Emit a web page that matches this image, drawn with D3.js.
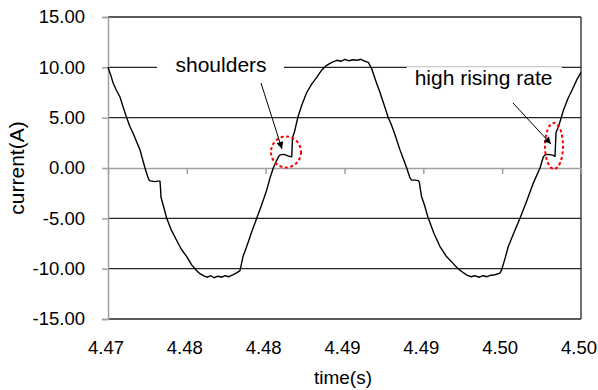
<!DOCTYPE html>
<html>
<head>
<meta charset="utf-8">
<script src="https://cdn.jsdelivr.net/npm/d3@7"></script>
<style>
  html, body { margin: 0; padding: 0; background: #fff; }
  svg { display: block; font-family: "Liberation Sans", Arial, sans-serif; }
</style>
</head>
<body>
<svg id="chart" width="598" height="390"></svg>
<script>
// Measured phase current, seconds vs amperes
const timeS = [
  4.470000, 4.470159, 4.470336, 4.470539, 4.470761, 4.470970, 4.471186, 4.471395, 4.471605, 4.471839,
  4.472030, 4.472188, 4.472347, 4.472505, 4.472619, 4.472791, 4.472981, 4.473171, 4.473298, 4.473330,
  4.473361, 4.473520, 4.473723, 4.474027, 4.474357, 4.474662, 4.474992, 4.475296, 4.475626, 4.475835,
  4.476044, 4.476279, 4.476533, 4.476723, 4.476977, 4.477230, 4.477420, 4.477674, 4.477947, 4.478182,
  4.478372, 4.478467, 4.478562, 4.478797, 4.479101, 4.479431, 4.479736, 4.480065, 4.480275, 4.480484,
  4.480655, 4.480801, 4.480909, 4.481163, 4.481417, 4.481651, 4.481702, 4.481829, 4.482051, 4.482304,
  4.482603, 4.482907, 4.483237, 4.483541, 4.483871, 4.484080, 4.484271, 4.484524, 4.484778, 4.485032,
  4.485285, 4.485539, 4.485793, 4.486047, 4.486300, 4.486509, 4.486725, 4.486998, 4.487252, 4.487505,
  4.487778, 4.487949, 4.488203, 4.488520, 4.488710, 4.488945, 4.489154, 4.489262, 4.489471, 4.489681,
  4.489744, 4.489820, 4.489883, 4.490074, 4.490315, 4.490676, 4.491057, 4.491469, 4.491901, 4.492199,
  4.492535, 4.492769, 4.493023, 4.493277, 4.493530, 4.493784, 4.494038, 4.494291, 4.494545, 4.494862,
  4.494970, 4.495180, 4.495389, 4.495750, 4.496131, 4.496575, 4.496974, 4.497399, 4.497609, 4.497716,
  4.497970, 4.498243, 4.498351, 4.498414, 4.498541, 4.498668, 4.498877, 4.499175, 4.499511, 4.499746,
  4.500000
];
const currentA = [
  10.0, 9.3, 8.4, 7.7, 7.05, 6.0, 5.0, 4.1, 3.4, 2.5,
  1.8, 0.9, 0.0, -0.8, -1.25, -1.3, -1.35, -1.3, -1.3, -2.0,
  -2.9, -3.8, -5.0, -6.2, -7.2, -8.1, -8.8, -9.6, -10.2, -10.5,
  -10.7, -10.85, -10.7, -10.9, -10.75, -10.85, -10.7, -10.8, -10.6, -10.4,
  -10.2, -9.5, -8.8, -7.8, -6.4, -5.0, -3.7, -2.2, -1.0, 0.0,
  0.6, 1.1, 1.3, 1.35, 1.2, 1.1, 3.0, 3.6, 5.1, 6.3,
  7.5, 8.3, 9.0, 9.7, 10.2, 10.4, 10.55, 10.7, 10.6, 10.8,
  10.65, 10.75, 10.7, 10.8, 10.6, 10.5, 9.85, 8.6, 7.5, 6.3,
  5.0, 4.4, 3.3, 1.8, 1.0, 0.0, -1.0, -1.2, -1.2, -1.25,
  -1.4, -2.2, -2.8, -3.7, -5.0, -6.5, -7.8, -8.8, -9.5, -10.0,
  -10.4, -10.65, -10.8, -10.7, -10.85, -10.7, -10.8, -10.65, -10.6, -10.45,
  -10.1, -9.0, -7.8, -6.4, -5.0, -3.2, -1.5, 0.0, 1.1, 1.3,
  1.35, 1.25, 1.15, 3.5, 4.0, 4.6, 5.7, 6.9, 8.0, 8.8,
  9.5
];

// Axis ticks and their printed labels
const xTicks = [4.470, 4.475, 4.480, 4.485, 4.490, 4.495, 4.500];
const xTickLabels = ["4.47", "4.48", "4.48", "4.49", "4.49", "4.50", "4.50"];
const yTicks = [-15, -10, -5, 0, 5, 10, 15];
const yTickLabels = ["-15.00", "-10.00", "-5.00", "0.00", "5.00", "10.00", "15.00"];

// Callouts (anchored in data units)
const noteText = ["shoulders", "high rising rate"];
const noteTextT = [4.47717, 4.49382];
const noteTextV = [9.54, 8.24];
const noteGapFrom = [4.473108, 4.488945];
const noteGapTo = [4.481163, 4.498776];
const arrowFromT = [4.479704, 4.495687];
const arrowFromV = [8.44, 6.46];
const arrowToT = [4.481036, 4.498097];
const arrowToV = [1.89, 2.38];
const ringT = [4.481290, 4.498288];
const ringV = [1.59, 2.19];
const ringRx = [15, 9];
const ringRy = [15.5, 23];

const svg = d3.select("#chart");
const plotLeft = 108, plotRight = 581, plotTop = 17, plotBottom = 319;

const x = d3.scaleLinear().domain([4.47, 4.50]).range([plotLeft, plotRight]);
const y = d3.scaleLinear().domain([-15, 15]).range([plotBottom, plotTop]);

const gridColor = "#262626";
const axisColor = "#a0a0a0";

// Horizontal gridlines (zero line is the gray category axis)
svg.append("g").selectAll("line")
  .data(yTicks.filter(v => v !== 0))
  .join("line")
  .attr("x1", plotLeft).attr("x2", plotRight)
  .attr("y1", d => y(d)).attr("y2", d => y(d))
  .attr("stroke", gridColor).attr("stroke-width", 1.3);

// Right border of the plot area
svg.append("line")
  .attr("x1", plotRight).attr("x2", plotRight).attr("y1", plotTop).attr("y2", plotBottom)
  .attr("stroke", gridColor).attr("stroke-width", 1.3);

// Value axis on the left
const yAxis = d3.axisLeft(y).tickValues(yTicks)
  .tickFormat((d, i) => yTickLabels[i]).tickSize(6).tickPadding(17);
const gy = svg.append("g").attr("transform", `translate(${plotLeft},0)`).call(yAxis);
gy.select(".domain").attr("stroke", axisColor).attr("stroke-width", 1.5);
gy.selectAll(".tick line").attr("stroke", axisColor).attr("stroke-width", 1.5);
gy.selectAll(".tick text")
  .attr("fill", "#000").style("font-size", "18.5px")
  .attr("font-family", "Liberation Sans, Arial, sans-serif");

// Time axis crossing at zero, ticks below it
const xAxis = d3.axisBottom(x).tickValues(xTicks).tickFormat("").tickSize(6).tickSizeOuter(0);
const gx = svg.append("g").attr("transform", `translate(0,${y(0)})`).call(xAxis);
gx.select(".domain").attr("stroke", axisColor).attr("stroke-width", 1.5);
gx.selectAll(".tick line").attr("stroke", axisColor).attr("stroke-width", 1.5);

// Time labels sit below the plot area
svg.append("g").selectAll("text")
  .data(xTicks)
  .join("text")
  .attr("x", d => x(d) - 2)
  .attr("y", 354)
  .attr("text-anchor", "middle")
  .style("font-size", "18.5px")
  .text((d, i) => xTickLabels[i]);

// Axis titles
svg.append("text")
  .attr("transform", `translate(24,${(plotTop + plotBottom) / 2}) rotate(-90)`)
  .attr("text-anchor", "middle")
  .style("font-size", "21px")
  .text("current(A)");
svg.append("text")
  .attr("x", 343).attr("y", 384)
  .attr("text-anchor", "middle")
  .style("font-size", "19px")
  .text("time(s)");

// Callout label boxes blank the gridline behind them
const notes = noteText.map((t, i) => ({
  text: t, t: noteTextT[i], v: noteTextV[i], g0: noteGapFrom[i], g1: noteGapTo[i]
}));
svg.append("g").selectAll("rect")
  .data(notes)
  .join("rect")
  .attr("x", d => x(d.g0))
  .attr("width", d => x(d.g1) - x(d.g0))
  .attr("y", d => y(d.v) - 18)
  .attr("height", 24)
  .attr("fill", "#fff");
svg.append("g").selectAll("text")
  .data(notes)
  .join("text")
  .attr("x", d => x(d.t))
  .attr("y", d => y(d.v))
  .attr("text-anchor", "middle")
  .style("font-size", "21px")
  .text(d => d.text);

// Current trace
const points = timeS.map((t, i) => [t, currentA[i]]);
svg.append("path")
  .datum(points)
  .attr("fill", "none")
  .attr("stroke", "#000")
  .attr("stroke-width", 1.4)
  .attr("stroke-linejoin", "round")
  .attr("d", d3.line().x(d => x(d[0])).y(d => y(d[1])));

// Dashed rings around the features
svg.append("g").selectAll("ellipse")
  .data(ringT.map((t, i) => ({ t, v: ringV[i], rx: ringRx[i], ry: ringRy[i] })))
  .join("ellipse")
  .attr("cx", d => x(d.t)).attr("cy", d => y(d.v))
  .attr("rx", d => d.rx).attr("ry", d => d.ry)
  .attr("fill", "none")
  .attr("stroke", "#ff0000")
  .attr("stroke-width", 2)
  .attr("stroke-dasharray", "3,2.5");

// Pointer arrows
svg.append("defs").append("marker")
  .attr("id", "head")
  .attr("viewBox", "0 0 10 10")
  .attr("refX", 10).attr("refY", 5)
  .attr("markerUnits", "userSpaceOnUse")
  .attr("markerWidth", 9).attr("markerHeight", 7)
  .attr("orient", "auto")
  .append("path").attr("d", "M0,0 L10,5 L0,10 Z").attr("fill", "#000");

svg.append("g").selectAll("line")
  .data(arrowFromT.map((t, i) => ({ t0: t, v0: arrowFromV[i], t1: arrowToT[i], v1: arrowToV[i] })))
  .join("line")
  .attr("x1", d => x(d.t0)).attr("y1", d => y(d.v0))
  .attr("x2", d => x(d.t1)).attr("y2", d => y(d.v1))
  .attr("stroke", "#000").attr("stroke-width", 1)
  .attr("marker-end", "url(#head)");
</script>
</body>
</html>
